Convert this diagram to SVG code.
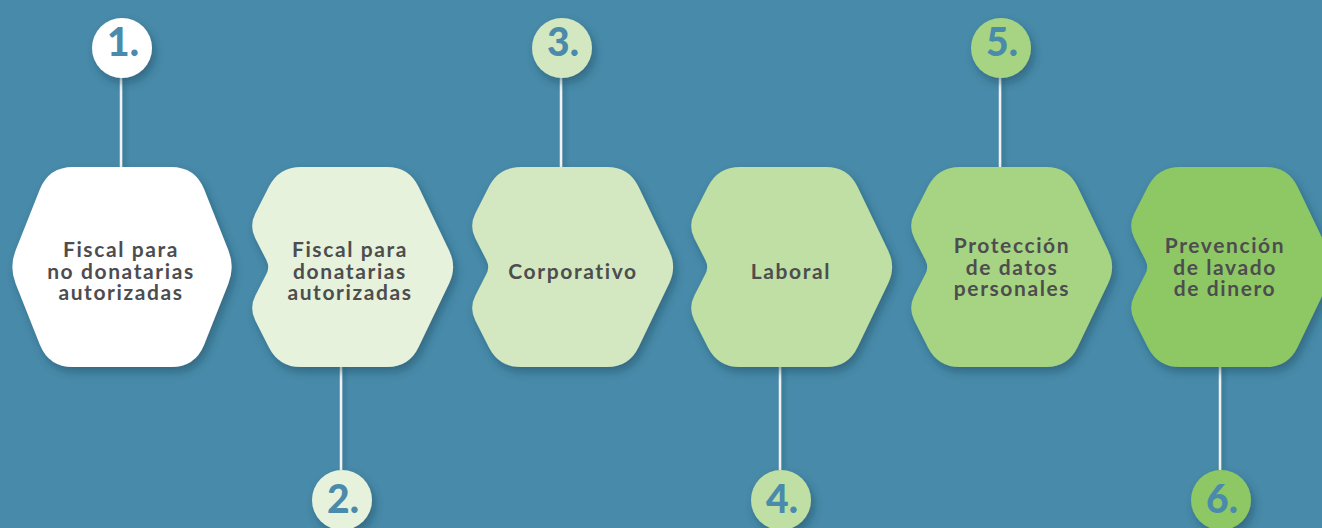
<svg xmlns="http://www.w3.org/2000/svg" width="1322" height="528" viewBox="0 0 1322 528">
<defs>
<filter id="sh" x="-20%" y="-20%" width="150%" height="150%">
<feDropShadow dx="3" dy="5" stdDeviation="4" flood-color="#173f55" flood-opacity="0.45"/>
</filter>
<filter id="lsh" x="-200%" y="-10%" width="500%" height="120%">
<feDropShadow dx="3" dy="0" stdDeviation="2" flood-color="#173f55" flood-opacity="0.35"/>
</filter>
<path id="chev" d="M-40,167 H46 Q68,167 77.5,186.8 L108.2,250.8 Q116,267 108.2,283.2 L77.5,347.2 Q68,367 46,367 H-40 Q-62,367 -72,347.4 L-85.7,320.5 Q-92,308 -85.6,295.5 L-74.6,274.1 Q-71,267 -74.6,259.9 L-85.6,238.5 Q-92,226 -85.7,213.5 L-72,186.6 Q-62,167 -40,167 Z"/>
</defs>
<style>
.lbl{font-family:Lato,"Liberation Sans",sans-serif;font-weight:700;font-size:21px;fill:#4d4d4f;text-anchor:middle;letter-spacing:1.6px}
.num{font-family:Lato,"Liberation Sans",sans-serif;font-weight:900;font-size:39px;fill:#4a8aab;text-anchor:middle}
.con{stroke:#f2f2f2;stroke-width:2.5;fill:none}
</style>
<rect width="1322" height="528" fill="#488aa9"/>
<g id="connectors" filter="url(#lsh)">
<line class="con" x1="121" y1="76" x2="121" y2="168"/>
<line class="con" x1="341" y1="366" x2="341" y2="470"/>
<line class="con" x1="561" y1="76" x2="561" y2="168"/>
<line class="con" x1="780" y1="366" x2="780" y2="470"/>
<line class="con" x1="1000" y1="76" x2="1000" y2="168"/>
<line class="con" x1="1220" y1="366" x2="1220" y2="470"/>
</g>
<g id="node1">
<path filter="url(#sh)" fill="#ffffff" d="M73,167 H171 Q195,167 204,189 L228.3,250.3 Q235,267 228.3,283.7 L204,345 Q195,367 171,367 H73 Q49,367 40,345 L15.7,283.7 Q9,267 15.7,250.3 L40,189 Q49,167 73,167 Z"/>
<text class="lbl" x="121" y="257">Fiscal para</text>
<text class="lbl" x="121" y="279">no donatarias</text>
<text class="lbl" x="121" y="300">autorizadas</text>
<circle filter="url(#sh)" cx="122" cy="48" r="30" fill="#ffffff"/>
<text class="num" x="123" y="56">1.</text>
</g>
<g id="node2">
<use href="#chev" x="341" filter="url(#sh)" fill="#e6f2dc"/>
<text class="lbl" x="350" y="257">Fiscal para</text>
<text class="lbl" x="350" y="279">donatarias</text>
<text class="lbl" x="350" y="300">autorizadas</text>
<circle filter="url(#sh)" cx="342" cy="500" r="30" fill="#e6f2dc"/>
<text class="num" x="343" y="513">2.</text>
</g>
<g id="node3">
<use href="#chev" x="561" filter="url(#sh)" fill="#d3e8c0"/>
<text class="lbl" x="573" y="279">Corporativo</text>
<circle filter="url(#sh)" cx="562" cy="48" r="30" fill="#d3e8c0"/>
<text class="num" x="563" y="56">3.</text>
</g>
<g id="node4">
<use href="#chev" x="780" filter="url(#sh)" fill="#bfdfa4"/>
<text class="lbl" x="791" y="279">Laboral</text>
<circle filter="url(#sh)" cx="781" cy="500" r="30" fill="#bfdfa4"/>
<text class="num" x="782" y="513">4.</text>
</g>
<g id="node5">
<use href="#chev" x="1000" filter="url(#sh)" fill="#a7d483"/>
<text class="lbl" x="1012" y="253">Protección</text>
<text class="lbl" x="1012" y="275">de datos</text>
<text class="lbl" x="1012" y="296">personales</text>
<circle filter="url(#sh)" cx="1001" cy="48" r="30" fill="#a7d483"/>
<text class="num" x="1002" y="56">5.</text>
</g>
<g id="node6">
<use href="#chev" x="1220" filter="url(#sh)" fill="#8dc865"/>
<text class="lbl" x="1225" y="253">Prevención</text>
<text class="lbl" x="1225" y="275">de lavado</text>
<text class="lbl" x="1225" y="296">de dinero</text>
<circle filter="url(#sh)" cx="1221" cy="500" r="30" fill="#8dc865"/>
<text class="num" x="1222" y="513">6.</text>
</g>
</svg>
